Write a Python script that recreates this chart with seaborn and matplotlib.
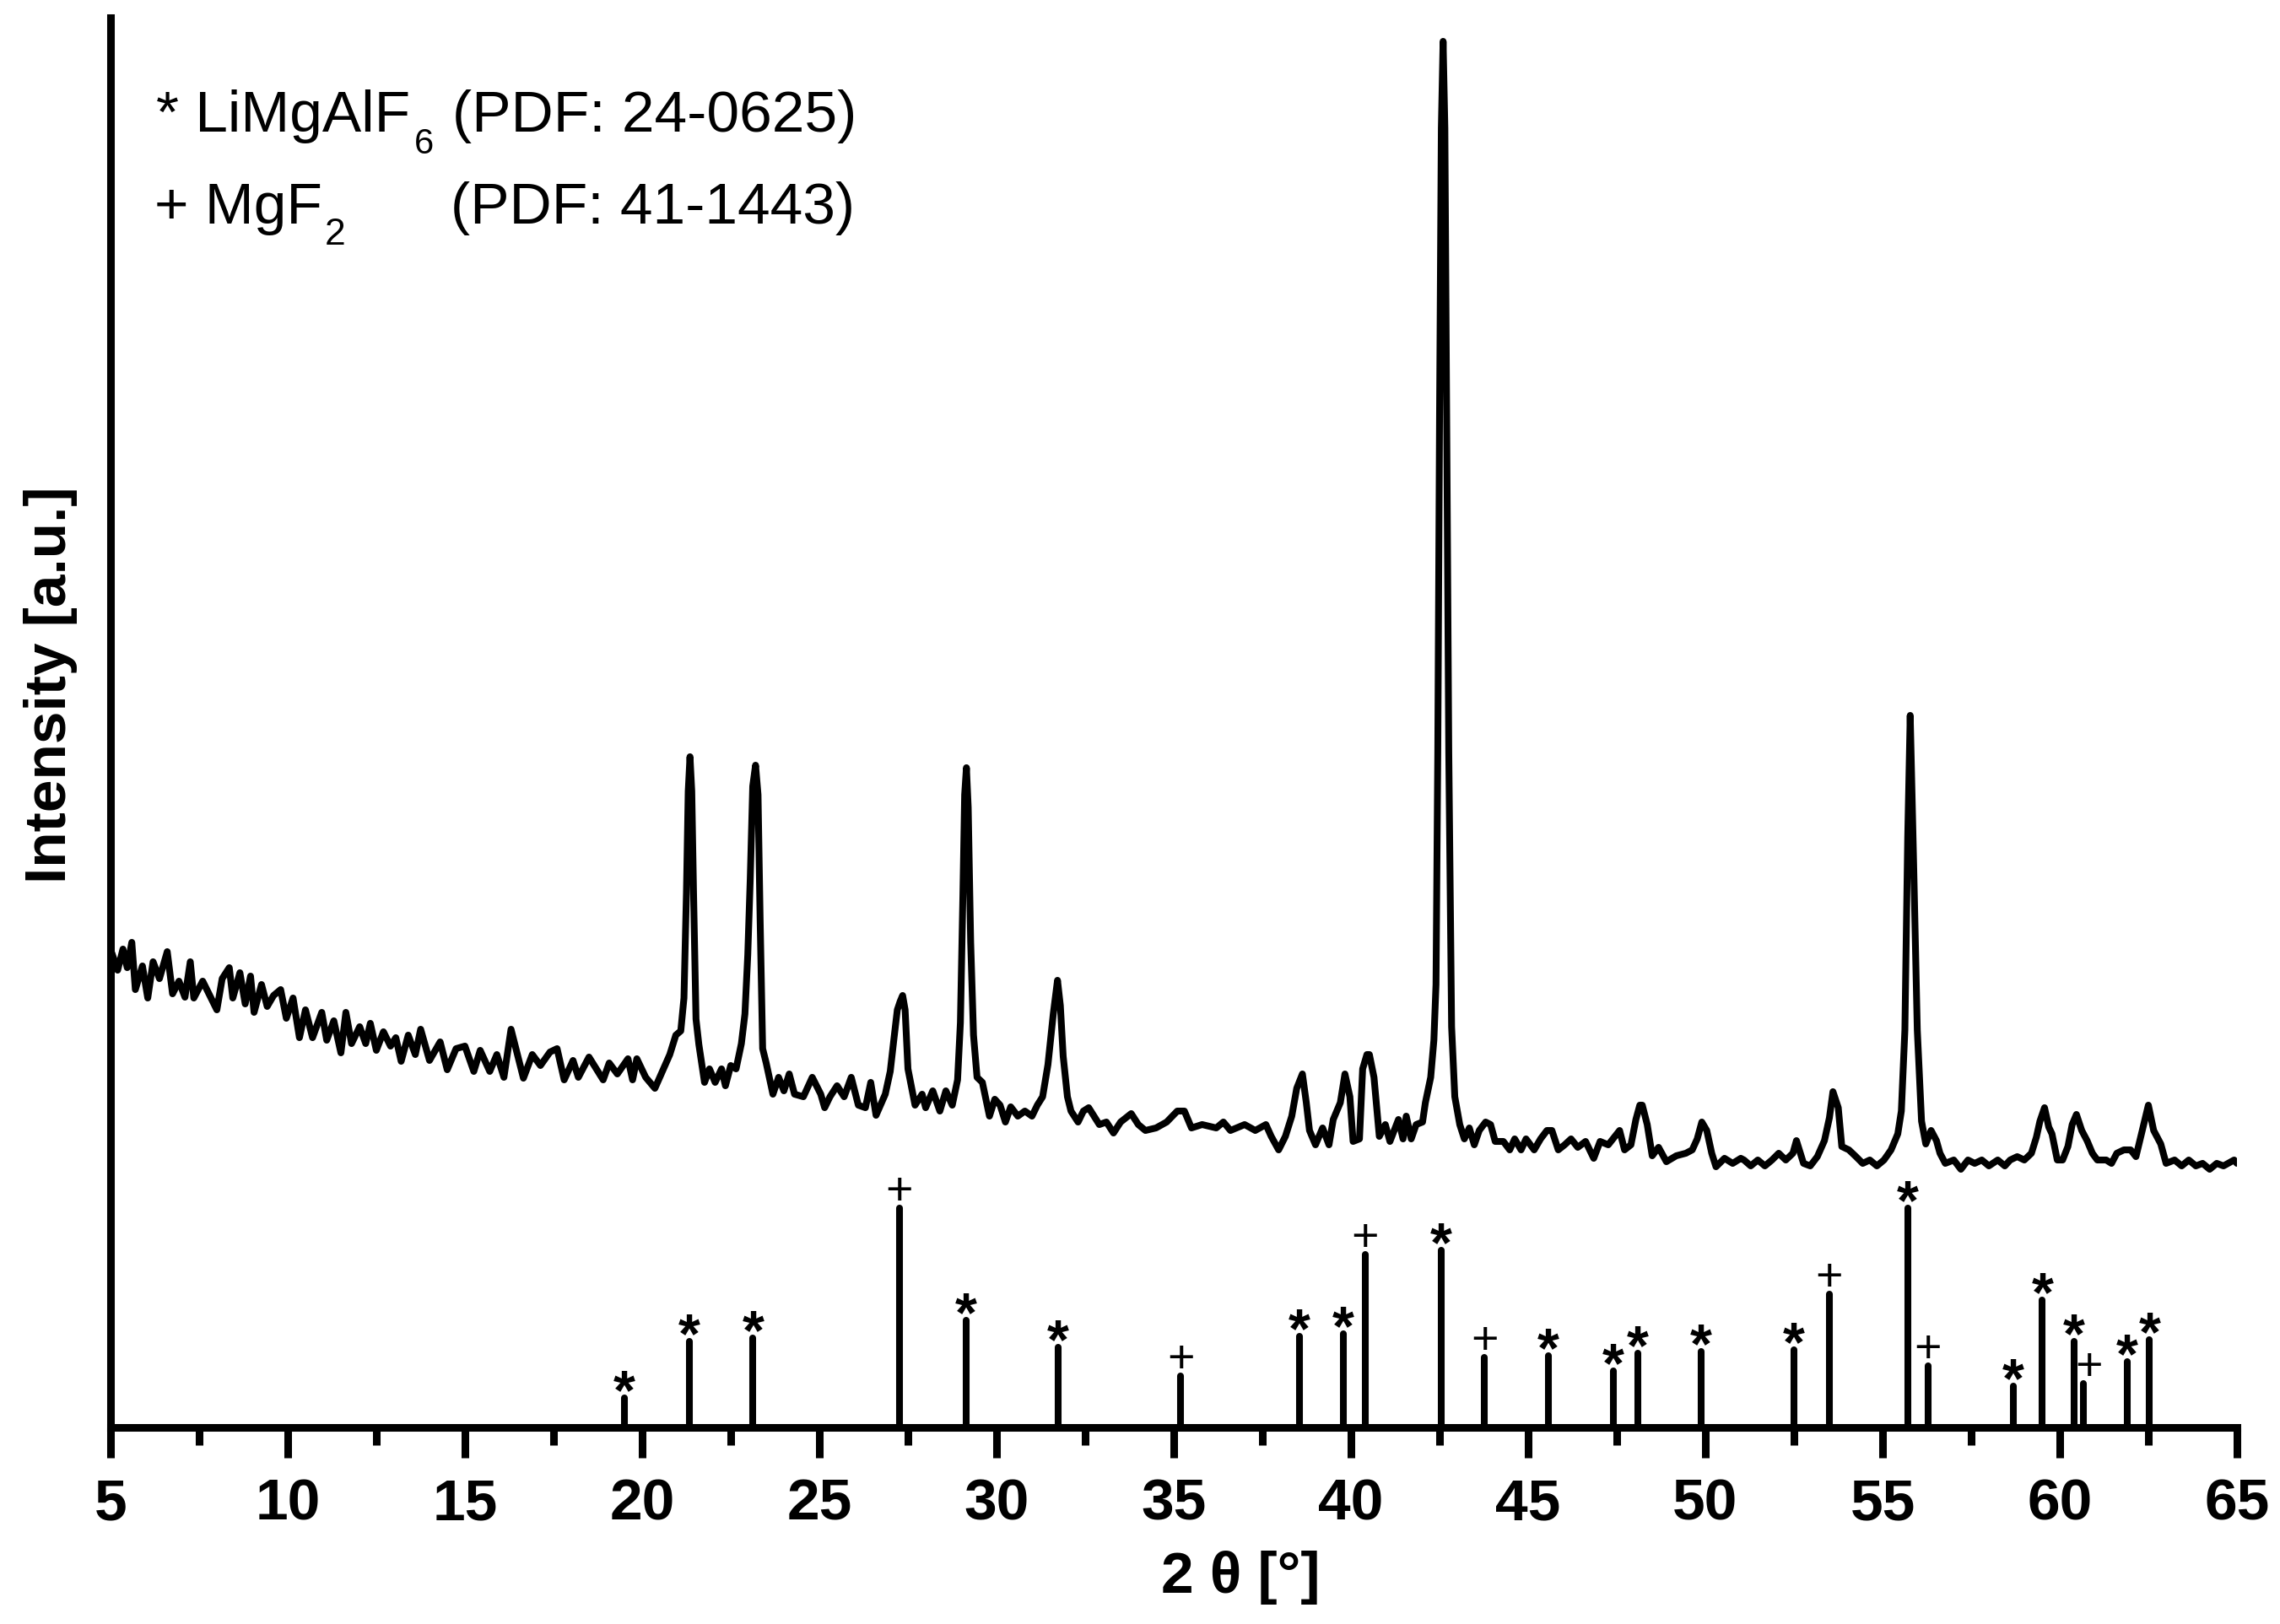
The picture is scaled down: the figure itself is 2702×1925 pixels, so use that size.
import matplotlib
matplotlib.use("Agg")
import matplotlib.pyplot as plt
import seaborn as sns
import pandas as pd

# ---------------- data ----------------
two_theta = [
    5.0, 5.04, 5.2, 5.35, 5.47, 5.6, 5.7, 5.9, 6.05, 6.2, 6.38, 6.6, 6.75, 6.93, 7.1, 7.25, 7.35,
    7.6, 7.8, 8.0, 8.15, 8.35, 8.45, 8.65, 8.8, 8.95, 9.05, 9.26, 9.42, 9.6, 9.8, 9.96,
    10.15, 10.33, 10.5, 10.7, 10.96, 11.1, 11.3, 11.5, 11.64, 11.8, 12.03, 12.2, 12.33,
    12.5, 12.7, 12.9, 13.05, 13.2, 13.4, 13.6, 13.75, 14.0, 14.3, 14.5, 14.75, 15.0,
    15.25, 15.43, 15.7, 15.9, 16.1, 16.3, 16.5, 16.65, 16.9, 17.13, 17.4, 17.6, 17.8,
    18.05, 18.2, 18.5, 18.9, 19.07, 19.3, 19.6, 19.73, 19.85, 20.1, 20.36, 20.6, 20.78,
    20.95, 21.09, 21.18, 21.25, 21.3, 21.35, 21.4, 21.45, 21.52, 21.6, 21.76, 21.9,
    22.06, 22.24, 22.35, 22.5, 22.65, 22.8, 22.9, 22.98, 23.05, 23.12, 23.2, 23.27,
    23.33, 23.4, 23.5, 23.69, 23.85, 24.0, 24.15, 24.3, 24.55, 24.8, 25.04, 25.15,
    25.3, 25.5, 25.7, 25.9, 26.1, 26.3, 26.45, 26.6, 26.86, 27.0, 27.1, 27.2, 27.28,
    27.35, 27.42, 27.5, 27.7, 27.9, 28.0, 28.2, 28.4, 28.57, 28.75, 28.9, 28.98, 29.05,
    29.1, 29.15, 29.2, 29.27, 29.35, 29.45, 29.6, 29.8, 29.95, 30.1, 30.25, 30.4, 30.6,
    30.8, 31.0, 31.15, 31.3, 31.45, 31.6, 31.72, 31.8, 31.88, 32.0, 32.1, 32.3, 32.45,
    32.6, 32.9, 33.1, 33.3, 33.5, 33.8, 34.0, 34.2, 34.5, 34.8, 35.1, 35.3, 35.5, 35.8,
    36.2, 36.4, 36.6, 37.0, 37.3, 37.6, 37.75, 37.96, 38.15, 38.33, 38.47, 38.63, 38.74,
    38.83, 39.0, 39.2, 39.38, 39.5, 39.7, 39.83, 39.97, 40.06, 40.24, 40.33, 40.45,
    40.52, 40.65, 40.8, 40.97, 41.1, 41.34, 41.47, 41.56, 41.7, 41.84, 42.02, 42.1,
    42.25, 42.34, 42.4, 42.45, 42.5, 42.55, 42.6, 42.65, 42.7, 42.76, 42.84, 42.93,
    43.07, 43.2, 43.34, 43.48, 43.62, 43.8, 43.94, 44.07, 44.3, 44.48, 44.62, 44.8,
    44.94, 45.17, 45.35, 45.53, 45.67, 45.85, 46.03, 46.21, 46.4, 46.62, 46.85, 47.03,
    47.26, 47.45, 47.58, 47.72, 47.9, 48.04, 48.15, 48.22, 48.36, 48.5, 48.68, 48.9,
    49.18, 49.45, 49.63, 49.77, 49.9, 50.04, 50.18, 50.3, 50.54, 50.77, 51.0, 51.09,
    51.28, 51.48, 51.68, 51.88, 52.07, 52.27, 52.47, 52.57, 52.77, 52.96, 53.16, 53.36,
    53.5, 53.6, 53.75, 53.85, 54.05, 54.25, 54.44, 54.64, 54.84, 55.04, 55.24, 55.43,
    55.53, 55.63, 55.71, 55.78, 55.88, 55.98, 56.1, 56.22, 56.37, 56.52, 56.62, 56.77,
    57.01, 57.21, 57.41, 57.6, 57.8, 58.0, 58.25, 58.45, 58.6, 58.8, 59.0, 59.2, 59.34,
    59.44, 59.57, 59.69, 59.78, 59.93, 60.08, 60.23, 60.35, 60.47, 60.62, 60.77, 60.92,
    61.06, 61.31, 61.46, 61.61, 61.81, 62.0, 62.15, 62.35, 62.5, 62.65, 62.85, 63.0,
    63.24, 63.44, 63.64, 63.84, 64.03, 64.23, 64.43, 64.62, 64.92, 65.0,
]
intensity = [
    555, 562, 542, 567, 545, 575, 519, 547, 509, 552, 532, 564, 514, 529, 510, 552, 509,
    529, 512, 495, 532, 545, 509, 539, 502, 535, 492, 525, 499, 512, 519, 485,
    509, 462, 495, 462, 492, 459, 482, 444, 492, 455, 475, 455, 479,
    447, 469, 452, 462, 434, 465, 442, 472, 435, 457, 424, 449, 452,
    422, 447, 422, 442, 415, 472, 439, 414, 442, 429, 445, 449, 412,
    435, 415, 439, 412, 432, 419, 437, 412, 437, 415, 402, 425, 442,
    465, 470, 509, 634, 754, 795, 754, 634, 484, 454, 409, 425,
    409, 425, 405, 429, 425, 455, 490, 560, 650, 760, 785, 750,
    600, 449, 432, 395, 415, 399, 419, 395, 392, 415, 395, 379,
    392, 405, 392, 415, 382, 379, 409, 370, 395, 422, 459, 495, 505,
    512, 495, 425, 382, 395, 379, 399, 375, 399, 382, 412, 480, 630,
    750, 782, 735, 575, 465, 415, 409, 369, 389, 382, 362, 380, 369,
    375, 369, 382, 392, 430, 490, 530, 500, 440, 392, 375, 362, 375,
    379, 359, 362, 349, 362, 372, 359, 352, 355, 362, 375, 375, 355, 359,
    355, 362, 352, 359, 352, 359, 345, 329, 345, 369, 402, 419, 385,
    352, 335, 355, 335, 365, 385, 419, 392, 339, 342, 425, 442,
    442, 415, 345, 359, 339, 365, 342, 369, 342, 359, 362, 385,
    415, 459, 525, 800, 1200, 1540, 1643, 1540, 1200, 800, 475, 392,
    359, 342, 355, 335, 352, 362, 359, 339, 339, 329, 342, 329,
    342, 329, 342, 352, 352, 329, 335, 342, 332, 339, 319, 339,
    335, 345, 352, 329, 335, 365, 382, 382, 359, 322, 332, 315,
    322, 325, 329, 342, 362, 352, 325, 309, 319, 313, 319, 317,
    310, 317, 310, 317, 325, 317, 325, 340, 313, 310, 321, 340,
    367, 398, 379, 333, 329, 321, 313, 317, 310, 317, 329, 348,
    375, 471, 700, 844, 662, 471, 363, 336, 352, 340, 325, 313,
    317, 306, 317, 313, 317, 310, 317, 310, 317, 321, 317, 325, 344,
    363, 379, 356, 348, 317, 317, 333, 359, 371, 352, 340, 325,
    317, 317, 313, 325, 329, 329, 321, 356, 382, 352, 336, 313,
    317, 310, 317, 310, 313, 306, 313, 310, 317, 313,
]

# reference pattern (stick positions, heights and phase marks)
ref_pos = [19.5, 21.33, 23.13, 27.25, 29.14, 31.73, 35.2, 38.55, 39.79, 40.4, 42.55,
           43.77, 45.57, 47.4, 48.1, 49.87, 52.5, 53.5, 55.72, 56.28, 58.68, 59.51,
           60.4, 60.66, 61.9, 62.53]
ref_height = [35, 102, 106, 260, 127, 95, 61, 108, 111, 205, 210,
              83, 85, 67, 88, 90, 92, 158, 260, 73, 49, 151,
              102, 52, 78, 104]
ref_phase = ['*', '*', '*', '+', '*', '*', '+', '*', '*', '+', '*',
             '+', '*', '*', '*', '*', '*', '+', '*', '+', '*', '*',
             '*', '+', '*', '*']

legend_names = ['* LiMgAlF', '+ MgF']
legend_subs = ['6', '2']
legend_pdf = ['(PDF: 24-0625)', '(PDF: 41-1443)']

major_ticks = [5, 10, 15, 20, 25, 30, 35, 40, 45, 50, 55, 60, 65]
minor_ticks = [7.5, 12.5, 17.5, 22.5, 27.5, 32.5, 37.5, 42.5, 47.5, 52.5, 57.5, 62.5]
x_label = '2 θ [°]'
y_label = 'Intensity [a.u.]'

# ---------------- style ----------------
sns.set_style('white')
plt.rcParams['font.family'] = ['Liberation Sans', 'DejaVu Sans']
plt.rcParams['text.color'] = 'black'
plt.rcParams['axes.labelcolor'] = 'black'
plt.rcParams['xtick.color'] = 'black'
plt.rcParams['axes.edgecolor'] = 'black'

W, H, DPI = 2702, 1925, 100
fig = plt.figure(figsize=(W / DPI, H / DPI), dpi=DPI, facecolor='white')
ax = fig.add_axes([131 / W, 1 - 1692 / H, 2520 / W, 1671 / H])

df = pd.DataFrame({'two_theta': two_theta, 'intensity': intensity})
sns.lineplot(data=df, x='two_theta', y='intensity', color='black', lw=5.8,
             sort=False, estimator=None, ax=ax, solid_joinstyle='round')

ax.vlines(ref_pos, 0, ref_height, colors='black', lw=5.8, capstyle='round')

prev = None
for p, h, ph in zip(ref_pos, ref_height, ref_phase):
    # a mark crowded by its left neighbour is nudged a little to the right
    nudge = 5 if (prev is not None and p - prev < 0.4) else 0
    if ph == '*':
        ax.annotate('*', (p, h), xytext=(nudge, -9.5), textcoords='offset points',
                    ha='center', va='baseline', fontsize=48, fontweight='bold')
    else:
        ax.annotate('+', (p, h), xytext=(nudge, 3), textcoords='offset points',
                    ha='center', va='baseline', fontsize=40)
    prev = p

ax.set_xlim(5, 65)
ax.set_ylim(0, 1671)
sns.despine(ax=ax)
for side in ('left', 'bottom'):
    ax.spines[side].set_linewidth(6.5)
    ax.spines[side].set_color('black')

ax.set_xticks(major_ticks)
ax.set_xticks(minor_ticks, minor=True)
ax.set_xticklabels([str(t) for t in major_ticks], fontsize=50, fontweight='bold')
ax.tick_params(axis='x', which='major', direction='out', length=25.9, width=6.5, pad=17.3,
               bottom=True)
ax.tick_params(axis='x', which='minor', direction='out', length=15, width=6.5, bottom=True)
ax.set_yticks([])

ax.set_xlabel(x_label, fontsize=50, fontweight='bold')
ax.xaxis.set_label_coords(0.5313, -0.0874)
ax.set_ylabel(y_label, fontsize=50, fontweight='bold')
ax.yaxis.set_label_coords(-0.0155, 0.5266)

# legend-like text block
name_x = [185, 183]
base_y = [156, 265]
sub_x = [491, 385]
sub_y = [182, 290]
sub_size = [30, 32]
pdf_x = [536, 534]
for i in range(2):
    fig.text(name_x[i] / W, 1 - base_y[i] / H, legend_names[i], fontsize=50, va='baseline', ha='left')
    fig.text(sub_x[i] / W, 1 - sub_y[i] / H, legend_subs[i], fontsize=sub_size[i], va='baseline', ha='left')
    fig.text(pdf_x[i] / W, 1 - base_y[i] / H, legend_pdf[i], fontsize=50, va='baseline', ha='left')

fig.savefig('out.png', dpi=DPI, facecolor='white')
